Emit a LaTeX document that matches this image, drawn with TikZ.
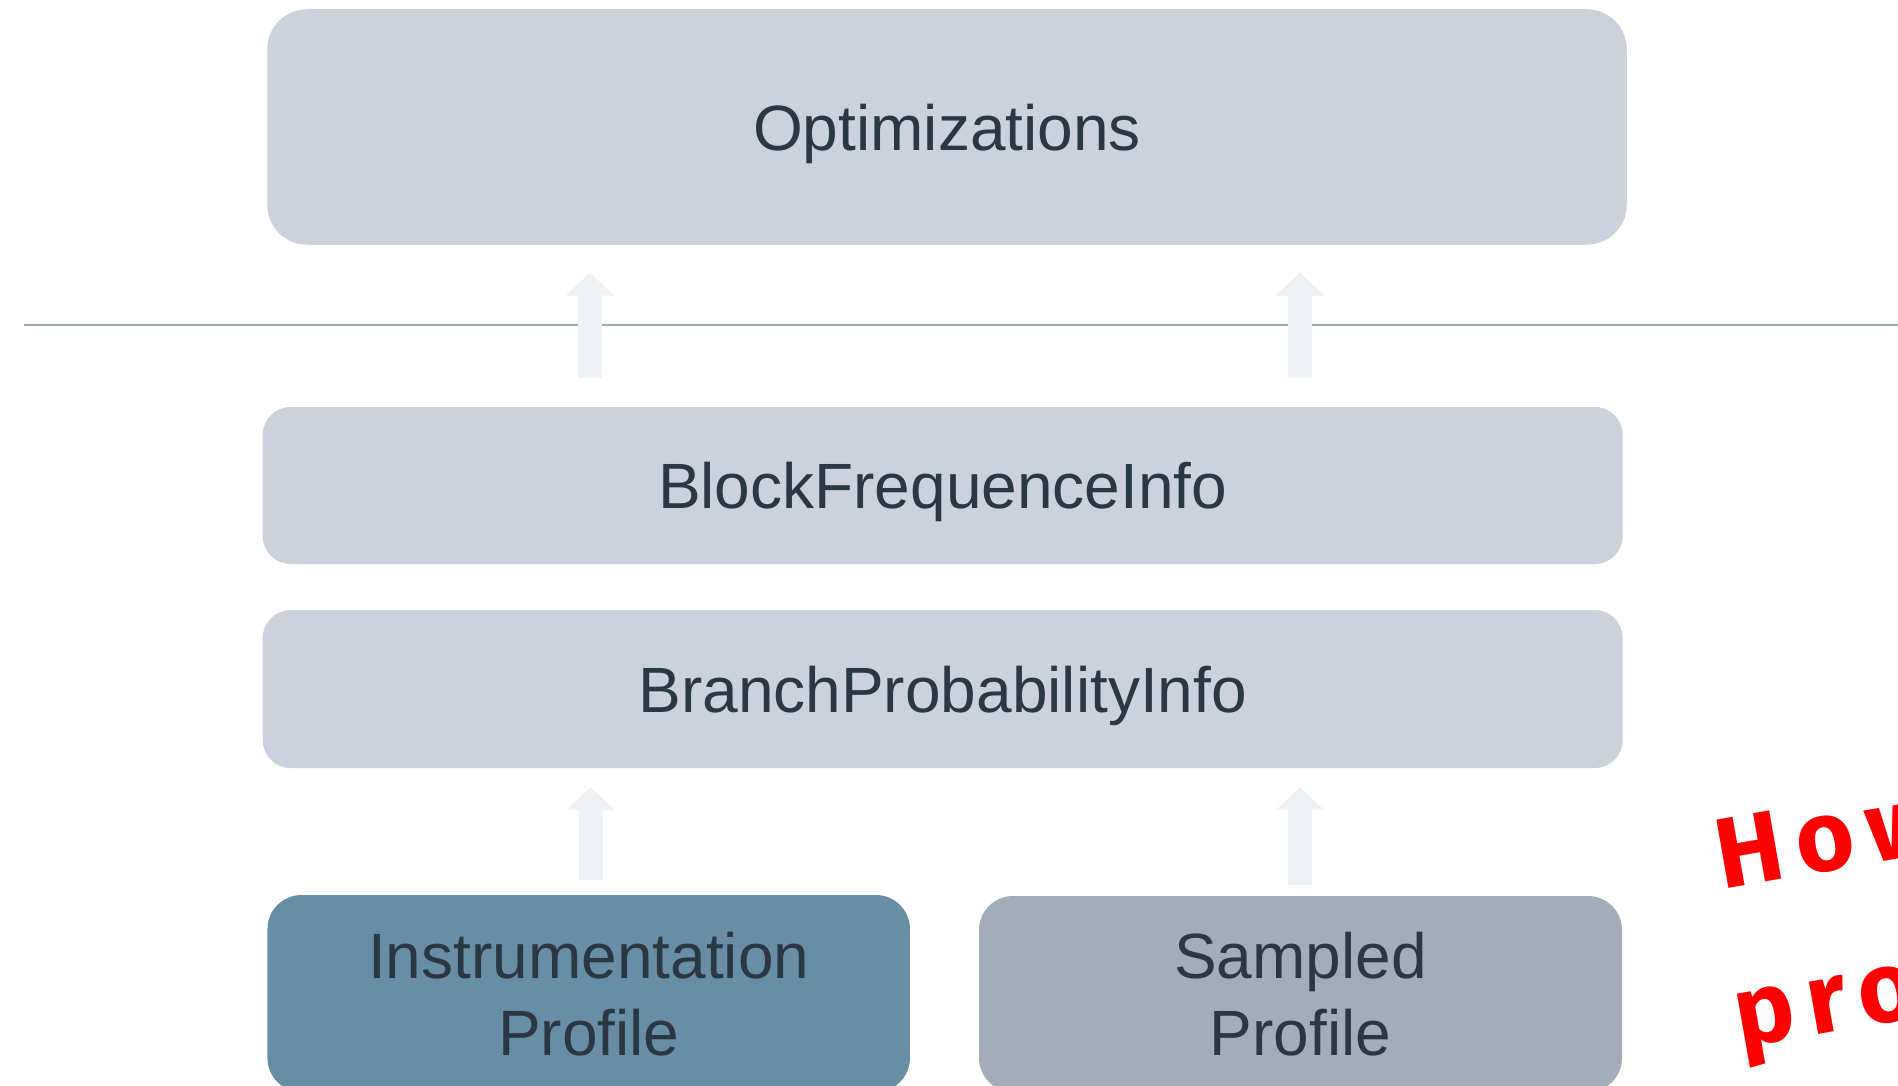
\documentclass[tikz,border=0pt]{standalone}
\usepackage{fontspec}
\setmainfont{Liberation Sans}
\newfontfamily\handfont{Fira Sans}
\newfontfamily\handfontwide{Fira Sans}[LetterSpace=14]
\usetikzlibrary{arrows.meta}
\definecolor{boxgray}{HTML}{CBD2DB}
\definecolor{instrblue}{HTML}{688EA6}
\definecolor{sampgray}{HTML}{A3ADBA}
\definecolor{txtdark}{HTML}{2B3844}
\definecolor{arrowfill}{HTML}{EEF2F6}
\definecolor{rulegray}{HTML}{9EA9B6}
\definecolor{handred}{HTML}{FF0000}
\begin{document}
\begin{tikzpicture}[x=1pt,y=-1pt,
  box/.style={rectangle, rounded corners=#1, inner sep=0pt, text=txtdark,
    align=center, text depth=0pt, font=\fontsize{64}{77}\selectfont},
  box/.default=28pt,
  uparrow/.style={draw=arrowfill, line width=24pt,
    -{Triangle[width=47pt,length=23pt,fill=arrowfill]}},
  rulestyle/.style={draw=rulegray, line width=2.5pt},
  handtext/.style={text=handred, inner sep=0pt, anchor=base west,
    font=\handfontwide\bfseries\fontsize{100}{100}\selectfont}
]
\useasboundingbox (0,0) rectangle (1898,1086);
\clip (0,0) rectangle (1898,1086);

% separator rule
\coordinate (hl1) at (23.7,325);
\coordinate (hl2) at (1898,325);
\draw[rulestyle] (hl1) -- (hl2);

% boxes
\node[box=40pt, fill=boxgray, minimum width=1359.5pt, minimum height=235.5pt] (opt) at (947,127) {Optimizations};
\node[box=28pt, fill=boxgray, minimum width=1360pt, minimum height=157pt] (bfi) at (942.7,485.5) {BlockFrequenceInfo};
\node[box=28pt, fill=boxgray, minimum width=1360pt, minimum height=158pt] (bpi) at (942.7,689) {BranchProbabilityInfo};
\node[box=34pt, fill=instrblue, minimum width=642.5pt, minimum height=197pt] (ins) at (588.7,993.5) {Instrumentation\\Profile};
\node[box=34pt, fill=sampgray, minimum width=643pt, minimum height=196pt] (smp) at (1300.5,994) {Sampled\\Profile};

% block arrows
\coordinate (a1s) at (590,378);   \coordinate (a1t) at (590,272.5);
\coordinate (a2s) at (1300,378);  \coordinate (a2t) at (1300,272.5);
\coordinate (a3s) at (590.5,880); \coordinate (a3t) at (590.5,787);
\coordinate (a4s) at (1300,885);  \coordinate (a4t) at (1300,787);
\draw[uparrow] (a1s) -- (a1t);
\draw[uparrow] (a2s) -- (a2t);
\draw[uparrow] (a3s) -- (a3t);
\draw[uparrow] (a4s) -- (a4t);

% handwritten annotation (cut off at the right edge)
\node[handtext, rotate=10] (how) at (1722,890) {How};
\node[handtext, rotate=10] (pro) at (1740,1048) {pro};
\end{tikzpicture}
\end{document}
